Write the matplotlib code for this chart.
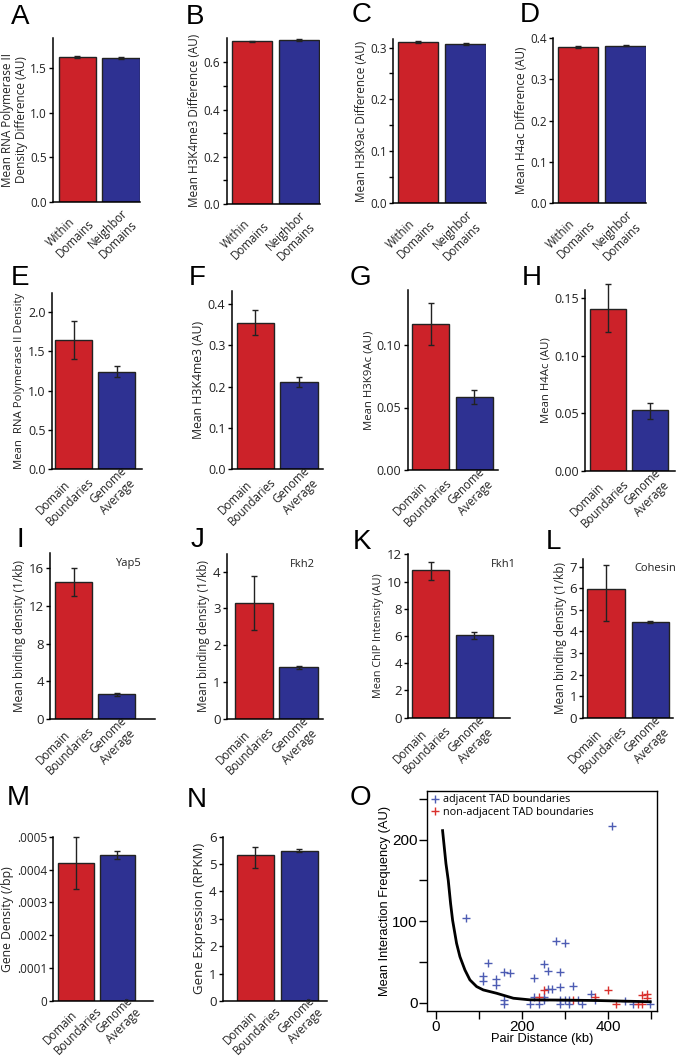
import matplotlib
matplotlib.use("Agg")
import matplotlib.pyplot as plt
from matplotlib.lines import Line2D
import numpy as np

plt.rcParams['font.family'] = ['Open Sans', 'DejaVu Sans']

RED = '#cc2229'
BLUE = '#2e3192'
EDGE = '#222222'

# ---- data ----
within_labels = ["Within\nDomains", "Neighbor\nDomains"]
boundary_labels = ["Domain\nBoundaries", "Genome\nAverage"]

mean_A = [1.63, 1.615];     lo_A = [1.618, 1.605];    hi_A = [1.642, 1.625]
mean_B = [0.689, 0.695];    lo_B = [0.685, 0.692];    hi_B = [0.693, 0.698]
mean_C = [0.311, 0.3065];   lo_C = [0.309, 0.305];    hi_C = [0.313, 0.308]
mean_D = [0.377, 0.3806];   lo_D = [0.375, 0.3788];   hi_D = [0.379, 0.3824]
mean_E = [1.648, 1.236];    lo_E = [1.41, 1.17];      hi_E = [1.885, 1.31]
mean_F = [0.355, 0.212];    lo_F = [0.326, 0.199];    hi_F = [0.385, 0.223]
mean_G = [0.1166, 0.0588];  lo_G = [0.100, 0.0527];   hi_G = [0.1334, 0.0642]
mean_H = [0.1408, 0.0525];  lo_H = [0.121, 0.0453];   hi_H = [0.1618, 0.0594]
mean_I = [14.55, 2.62];     lo_I = [13.02, 2.45];     hi_I = [16.0, 2.77]
mean_J = [3.14, 1.397];     lo_J = [2.41, 1.34];      hi_J = [3.88, 1.44]
mean_K = [10.85, 6.05];     lo_K = [10.11, 5.78];     hi_K = [11.46, 6.32]
mean_L = [5.97, 4.42];      lo_L = [4.5, 4.37];       hi_L = [7.08, 4.47]
mean_M = [0.000421, 0.000443]; lo_M = [0.000341, 0.000433]; hi_M = [0.0005, 0.000455]
mean_N = [5.32, 5.49];      lo_N = [4.86, 5.45];      hi_N = [5.63, 5.54]

adj_x = [70, 120, 110, 110, 140, 140, 159, 171, 159, 159, 229, 250, 260, 279, 300,
         288, 288, 260, 269, 319, 360, 409, 219, 229, 240, 250, 250, 288, 288, 300,
         309, 309, 329, 340, 370, 439, 459, 498]
adj_y = [104, 48, 33, 27, 29, 22, 37, 36, 3, -2, 30, 47, 39, 76, 73,
         37, 19, 17, 17, 20, 11, 217, -2, 7, -2, 3, 7, 3, -2, 3,
         3, -2, 3, -2, 3, 2, -2, -2]
nonadj_x = [240, 250, 319, 370, 400, 419, 470, 480, 480, 490, 490]
nonadj_y = [7, 15, 3, 7, 15, -2, -2, -2, 9, 11, 5]
curve_x = [15.5, 23.3, 28.7, 34.1, 38.8, 48, 55.8, 67.4, 79, 94.6, 110, 141, 180, 218.6, 296, 374, 498]
curve_y = [211, 170.6, 150, 121.6, 101, 72.7, 56.3, 40, 27.8, 19.6, 15.5, 11.4, 5.3, 3.3, 3, 2.5, 1]

W, H = 677, 1059
fig = plt.figure(figsize=(W / 100, H / 100), dpi=100)


def add_ax(l, t, r, b):
    return fig.add_axes([l / W, 1 - b / H, (r - l) / W, (b - t) / H])


def bar_panel(rect, xlim, ytop, means, lo, hi, labels, ylabel, yticks,
              yticklabels=None, minor=None, ylabel_size=8.5, tick_size=8.5,
              label_off=(3.5, 4.5)):
    ax = add_ax(*rect)
    x = np.arange(2)
    yerr = [np.subtract(means, lo), np.subtract(hi, means)]
    bars = ax.bar(x, means, width=0.85, color=[RED, BLUE], edgecolor=EDGE, linewidth=1,
                  yerr=yerr, capsize=2.5,
                  error_kw=dict(elinewidth=1, capthick=1, ecolor=EDGE))
    for art in bars.errorbar.lines[1] + bars.errorbar.lines[2]:
        art.set_clip_on(False)
    ax.set_xlim(*xlim)
    ax.set_ylim(0, ytop)
    for s in ['top', 'right']:
        ax.spines[s].set_visible(False)
    for s in ['left', 'bottom']:
        ax.spines[s].set_linewidth(1.1)
    ax.set_xticks([])
    # category labels, rotated 45 deg, anchored at their top-right corner
    for xi, lab in zip(x, labels):
        ax.annotate(lab, xy=(xi, 0), xycoords=('data', 'axes fraction'),
                    xytext=(label_off[0] * 0.72, label_off[1] * 0.72),
                    textcoords='offset points', rotation=45, ha='right', va='top',
                    rotation_mode='anchor', multialignment='left', linespacing=1.2,
                    fontsize=8.3, color='#222222', annotation_clip=False)
    ax.set_yticks(yticks)
    if yticklabels is not None:
        ax.set_yticklabels(yticklabels)
    if minor is not None:
        ax.set_yticks(minor, minor=True)
    ax.tick_params(axis='y', which='both', direction='out', length=3, width=1,
                   labelsize=tick_size, pad=1.5, labelcolor='#222222')
    ax.set_ylabel(ylabel, fontsize=ylabel_size, labelpad=2, color='#222222',
                  linespacing=1.1)
    return ax


# row 1
row1_off = (0, -4.5)
bar_panel((53.3, 38, 140, 202), (-0.545, 1.43), 1.84, mean_A, lo_A, hi_A, within_labels,
          "Mean RNA Polymerase II\nDensity Difference (AU)", [0, 0.5, 1.0, 1.5],
          ["0.0", "0.5", "1.0", "1.5"], label_off=row1_off)
bar_panel((226.7, 37.7, 320, 204), (-0.54, 1.44), 0.705, mean_B, lo_B, hi_B, within_labels,
          "Mean H3K4me3 Difference (AU)", [0, 0.2, 0.4, 0.6],
          ["0.0", "0.2", "0.4", "0.6"], minor=[0.1, 0.3, 0.5], label_off=row1_off)
bar_panel((393.3, 38.7, 486, 203.3), (-0.52, 1.43), 0.317, mean_C, lo_C, hi_C, within_labels,
          "Mean H3K9ac Difference (AU)", [0, 0.1, 0.2, 0.3],
          ["0.0", "0.1", "0.2", "0.3"], minor=[0.05, 0.15, 0.25], label_off=row1_off)
bar_panel((553.3, 37.7, 646, 203.3), (-0.52, 1.43), 0.40, mean_D, lo_D, hi_D, within_labels,
          "Mean H4ac Difference (AU)", [0, 0.1, 0.2, 0.3, 0.4],
          ["0.0", "0.1", "0.2", "0.3", "0.4"], label_off=row1_off)

# row 2
bar_panel((51.7, 293.3, 141.7, 469.3), (-0.51, 1.58), 2.24, mean_E, lo_E, hi_E, boundary_labels,
          "Mean  RNA Polymerase II Density", [0, 0.5, 1.0, 1.5, 2.0],
          ["0.0", "0.5", "1.0", "1.5", "2.0"], ylabel_size=8.2, tick_size=9)
bar_panel((231.7, 291, 322.7, 469), (-0.54, 1.54), 0.432, mean_F, lo_F, hi_F, boundary_labels,
          "Mean H3K4me3 (AU)", [0, 0.1, 0.2, 0.3, 0.4],
          ["0.0", "0.1", "0.2", "0.3", "0.4"], ylabel_size=8.8, tick_size=9)
bar_panel((407.7, 290, 498.3, 470), (-0.53, 1.55), 0.144, mean_G, lo_G, hi_G, boundary_labels,
          "Mean H3K9Ac (AU)", [0, 0.05, 0.10],
          ["0.00", "0.05", "0.10"], ylabel_size=8.2, tick_size=9)
bar_panel((585, 290, 675, 471), (-0.545, 1.59), 0.157, mean_H, lo_H, hi_H, boundary_labels,
          "Mean H4Ac (AU)", [0, 0.05, 0.10, 0.15],
          ["0.00", "0.05", "0.10", "0.15"], ylabel_size=8.2, tick_size=9)

# row 3
axI = bar_panel((50, 553.3, 155, 718.7), (-0.55, 1.89), 17.6, mean_I, lo_I, hi_I, boundary_labels,
                "Mean binding density (1/kb)", [0, 4, 8, 12, 16], tick_size=9.5)
axJ = bar_panel((226.7, 554.3, 323.3, 718.7), (-0.6, 1.55), 4.47, mean_J, lo_J, hi_J, boundary_labels,
                "Mean binding density (1/kb)", [0, 1, 2, 3, 4], tick_size=9.5)
axK = bar_panel((408.3, 554.3, 510, 717.7), (-0.51, 1.82), 12, mean_K, lo_K, hi_K, boundary_labels,
                "Mean ChIP Intensity (AU)", [0, 2, 4, 6, 8, 10, 12], ylabel_size=7.8, tick_size=9.5)
axL = bar_panel((583.3, 559.3, 673.3, 717.7), (-0.52, 1.52), 7.34, mean_L, lo_L, hi_L, boundary_labels,
                "Mean binding density (1/kb)", [0, 1, 2, 3, 4, 5, 6, 7], tick_size=9.5)
for ax, name, fx in [(axI, "Yap5", 0.74), (axJ, "Fkh2", 0.78), (axK, "Fkh1", 0.93), (axL, "Cohesin", 0.80)]:
    ax.text(fx, 0.94, name, transform=ax.transAxes, ha='center', va='center',
            fontsize=8, color='#222222')

# row 4
row4_off = (8.5, 7)
bar_panel((53.3, 836.7, 153.3, 1001), (-0.54, 1.86), 0.0005, mean_M, lo_M, hi_M, boundary_labels,
          "Gene Density (/bp)", [0, 0.0001, 0.0002, 0.0003, 0.0004, 0.0005],
          ["0", ".0001", ".0002", ".0003", ".0004", ".0005"], ylabel_size=8.8, tick_size=8.5,
          label_off=row4_off)
bar_panel((222.7, 836.7, 326.7, 1001), (-0.74, 1.62), 6, mean_N, lo_N, hi_N, boundary_labels,
          "Gene Expression (RPKM)", [0, 1, 2, 3, 4, 5, 6], ylabel_size=9.5, tick_size=9.5,
          label_off=row4_off)

# panel O scatter
axO = add_ax(427.3, 790.7, 656.7, 1010.7)
axO.plot(curve_x, curve_y, color='black', lw=2, zorder=3)
axO.plot(adj_x, adj_y, ls='none', marker='+', ms=6, mew=1, color='#4d5cb3', zorder=2)
axO.plot(nonadj_x, nonadj_y, ls='none', marker='+', ms=6, mew=1, color='#d9302c', zorder=2)
axO.set_xlim(-20, 513)
axO.set_ylim(-10, 260)
axO.set_xticks([0, 100, 200, 300, 400, 500])
axO.set_xticklabels(['0', '', '200', '', '400', ''])
axO.set_yticks([0, 50, 100, 150, 200, 250])
axO.set_yticklabels(['0', '', '100', '', '200', ''])
axO.tick_params(direction='out', length=6, width=1, pad=1)
for lab in axO.get_xticklabels() + axO.get_yticklabels():
    lab.set_family(['Liberation Sans', 'DejaVu Sans'])
    lab.set_fontsize(11)
for s in axO.spines.values():
    s.set_linewidth(1)
axO.set_xlabel("Pair Distance (kb)", fontsize=9.3, labelpad=-1,
               family=['Liberation Sans', 'DejaVu Sans'])
axO.set_ylabel("Mean Interaction Frequency (AU)", fontsize=9.3, labelpad=1,
               family=['Liberation Sans', 'DejaVu Sans'])
handles = [Line2D([], [], ls='none', marker='+', ms=6, mew=1, color='#4d5cb3'),
           Line2D([], [], ls='none', marker='+', ms=6, mew=1, color='#d9302c')]
axO.legend(handles, ["adjacent TAD boundaries", "non-adjacent TAD boundaries"],
           loc='upper left', frameon=False, fontsize=7.8, handlelength=0.8,
           handletextpad=0.3, borderaxespad=0.15, labelspacing=0.1, borderpad=0.2)

# panel letters
letters = ["A", "B", "C", "D", "E", "F", "G", "H", "I", "J", "K", "L", "M", "N", "O"]
letter_x = [20, 195, 362, 530, 20, 197, 360, 532, 20, 198, 362, 553, 18, 197, 360]
letter_y = [17, 17, 15, 15, 278, 278, 278, 278, 540, 540, 542, 542, 798, 800, 798]
for t, lx, ly in zip(letters, letter_x, letter_y):
    fig.text(lx / W, 1 - ly / H, t, ha='center', va='center', fontsize=20,
             family=['Liberation Sans', 'DejaVu Sans'])

fig.savefig("out.png", dpi=100)
